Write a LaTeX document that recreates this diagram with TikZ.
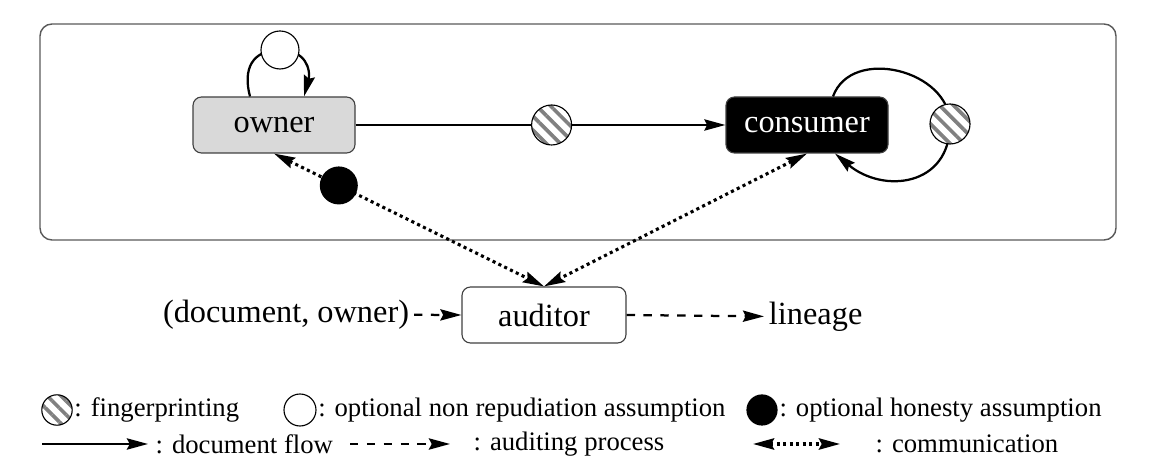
\documentclass[tikz,border=0pt]{standalone}
\usepackage{fontspec}
\setmainfont{Liberation Serif}
\usetikzlibrary{arrows.meta,patterns.meta,positioning}

\begin{document}
\begin{tikzpicture}[
    party/.style={draw=black!75, line width=0.8pt, rounded corners=6pt,
        minimum width=4.05cm, minimum height=1.4cm, font=\fontsize{23}{27}\selectfont},
    flow/.style={line width=1.6pt, -{Stealth[length=15pt,width=8pt,inset=2pt]}},
    audit/.style={line width=1.6pt, dash pattern=on 6pt off 6pt,
        -{Stealth[length=15pt,width=8pt,inset=2pt]}},
    comm/.style={line width=2.2pt, dash pattern=on 2.2pt off 2.4pt,
        {Stealth[length=15pt,width=8pt,inset=2pt]}-{Stealth[length=15pt,width=8pt,inset=2pt]}},
    fprint/.style={circle, draw, line width=0.8pt, minimum size=1cm, inner sep=0pt,
        preaction={fill=white}, pattern={Lines[angle=-45,distance=7pt,line width=2.6pt]},
        pattern color=black!50},
    nonrep/.style={circle, draw, line width=0.8pt, minimum size=0.95cm, inner sep=0pt, fill=white},
    honest/.style={circle, fill=black, minimum size=0.95cm, inner sep=0pt},
    bigtext/.style={font=\fontsize{23}{27}\selectfont},
    keytext/.style={font=\fontsize{19}{23}\selectfont, inner sep=1pt}
]
    \useasboundingbox (0,0) rectangle (29.3,11.5);

    % cadre du systeme
    \draw[black!65, line width=1pt, rounded corners=0.3cm] (1.0,5.5) rectangle (27.9,10.9);

    % les acteurs
    \node[party, fill=black!15] (owner) at (6.85,8.375) {owner};
    \node[party, fill=black, text=white] (consumer) at (20.175,8.375) {consumer};
    \node[party, fill=white, minimum width=4.1cm] (auditor) at (13.6,3.625) {auditor};

    % boucle du proprietaire
    \coordinate (nrloop) at (7.0,10.25);
    \draw[flow] ([xshift=-0.6cm]owner.north) to[out=105,in=180,looseness=1.3] (nrloop)
        node[nonrep] (nrep) {}
        to[out=0,in=75,looseness=1.3] ([xshift=0.75cm]owner.north);

    % flux du document
    \draw[flow] (owner.east) -- node[fprint, pos=0.53] (fpflow) {} (consumer.west);

    % boucle du consommateur
    \coordinate (fploop) at (23.75,8.4);
    \draw[flow] ([xshift=0.65cm]consumer.north) to[out=70,in=90,looseness=1.15] (fploop)
        node[fprint] (fpcons) {}
        to[out=-90,in=-40,looseness=1.35] ([xshift=0.7cm]consumer.south);

    % communication avec l'auditeur
    \draw[comm] (owner.south) -- node[honest, pos=0.24] (hon) {} (auditor.north);
    \draw[comm] (consumer.south) -- (auditor.north);

    % processus d'audit
    \node[bigtext, anchor=east] (input) at (10.35,3.63) {(document, owner)};
    \node[bigtext, anchor=west] (lineage) at (19.1,3.59) {lineage};
    \draw[audit] (input.east) -- (auditor.west);
    \draw[audit] (auditor.east) -- (lineage.west);

    % legende, premiere ligne
    \node[fprint, minimum size=0.76cm] (fpkey) at (1.425,1.25) {};
    \node[keytext, right=0pt of fpkey] (fptext) {: fingerprinting};
    \node[nonrep, minimum size=0.8cm] (nrkey) at (7.5,1.25) {};
    \node[keytext, right=0pt of nrkey] (nrtext) {: optional non repudiation assumption};
    \node[honest, minimum size=0.78cm] (honkey) at (19.05,1.25) {};
    \node[keytext, right=0pt of honkey] (hontext) {: optional honesty assumption};

    % legende, deuxieme ligne
    \coordinate (flowa) at (1.05,0.4);
    \coordinate (flowb) at (3.7,0.4);
    \draw[flow] (flowa) -- (flowb);
    \node[keytext, anchor=west] (flowtext) at (3.85,0.4) {: document flow};
    \coordinate (audita) at (8.75,0.4);
    \coordinate (auditb) at (11.25,0.4);
    \draw[audit] (audita) -- (auditb);
    \node[keytext, anchor=west] (audittext) at (11.8,0.4) {: auditing process};
    \coordinate (comma) at (18.825,0.4);
    \coordinate (commb) at (21.0,0.4);
    \draw[comm] (comma) -- (commb);
    \node[keytext, anchor=west] (commtext) at (21.85,0.4) {: communication};

\end{tikzpicture}
\end{document}
